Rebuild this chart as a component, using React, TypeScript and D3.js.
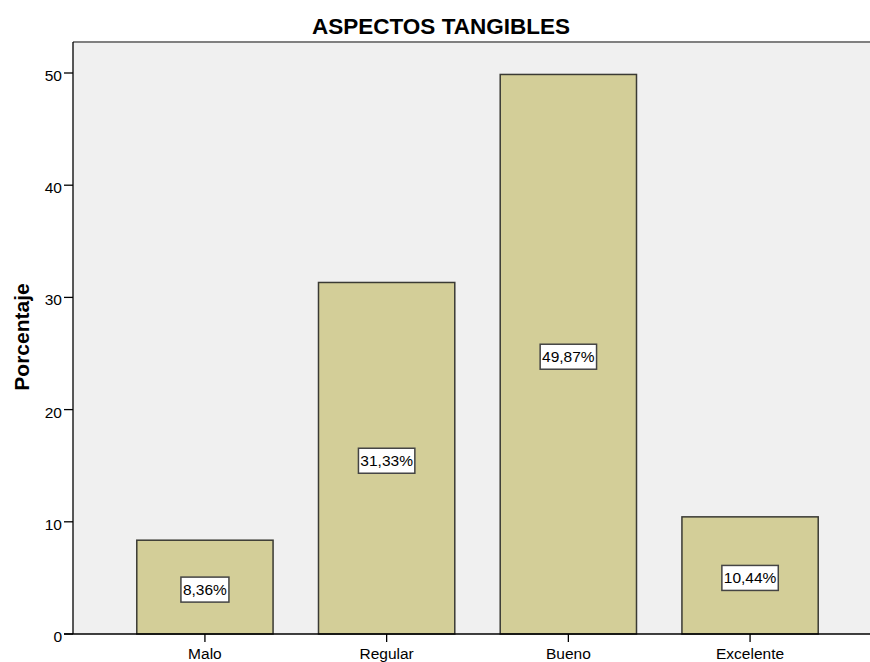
import React from "react";
import * as d3 from "d3";

const categories = ["Malo", "Regular", "Bueno", "Excelente"];
const values = [8.36, 31.33, 49.87, 10.44];
const valueLabels = ["8,36%", "31,33%", "49,87%", "10,44%"];
const yTicks = [0, 10, 20, 30, 40, 50];

const W = 870;
const H = 662;
const plotLeft = 73;
const plotRight = 882;
const plotTop = 42;
const plotBottom = 634;
const font = "'Liberation Sans', Arial, sans-serif";

export default function App() {
  const x = d3
    .scaleBand<string>()
    .domain(categories)
    .range([plotLeft, plotRight])
    .paddingInner(0.25)
    .paddingOuter(0.351);
  const y = d3.scaleLinear().domain([0, 50]).range([plotBottom, 73]);

  return (
    <svg
      width={W}
      height={H}
      style={{ position: "absolute", left: 0, top: 0, display: "block", background: "#fff" }}
      fontFamily={font}
    >
      {/* plot background */}
      <rect x={plotLeft} y={plotTop} width={plotRight - plotLeft} height={plotBottom - plotTop} fill="#f0f0f0" />
      <line x1={plotLeft} x2={plotRight} y1={plotTop} y2={plotTop} stroke="#808080" strokeWidth={2} />

      {/* bars */}
      {categories.map((c, i) => (
        <rect
          key={c}
          x={x(c)!}
          y={y(values[i])}
          width={x.bandwidth()}
          height={y(0) - y(values[i])}
          fill="#d3ce98"
          stroke="#3a3a34"
          strokeWidth={1.5}
        />
      ))}

      {/* value labels */}
      {categories.map((c, i) => {
        const cx = x(c)! + x.bandwidth() / 2;
        const cy = y(values[i] / 2) + 2.5;
        const w = valueLabels[i].length * 8.4 + 6;
        return (
          <g key={c}>
            <rect x={cx - w / 2} y={cy - 12.5} width={w} height={25} fill="#fff" stroke="#444" strokeWidth={1.5} />
            <text x={cx} y={cy + 5.5} textAnchor="middle" fontSize={15.5} fill="#000">
              {valueLabels[i]}
            </text>
          </g>
        );
      })}

      {/* axes */}
      <line x1={plotLeft} x2={plotLeft} y1={plotTop} y2={plotBottom} stroke="#000" strokeWidth={1.3} />
      <line x1={plotLeft - 9} x2={plotRight} y1={plotBottom} y2={plotBottom} stroke="#000" strokeWidth={1.3} />
      {yTicks.map((t) => (
        <g key={t}>
          <line x1={plotLeft - 9} x2={plotLeft} y1={y(t)} y2={y(t)} stroke="#000" strokeWidth={1.3} />
          <text x={plotLeft - 11} y={y(t) + 8} textAnchor="end" fontSize={15.5} fill="#000">
            {t}
          </text>
        </g>
      ))}
      {categories.map((c) => {
        const cx = x(c)! + x.bandwidth() / 2;
        return (
          <g key={c}>
            <line x1={cx} x2={cx} y1={plotBottom} y2={plotBottom + 8} stroke="#000" strokeWidth={1.3} />
            <text x={cx} y={plotBottom + 25} textAnchor="middle" fontSize={15.5} fill="#000">
              {c}
            </text>
          </g>
        );
      })}

      {/* titles */}
      <text x={441} y={34} textAnchor="middle" fontSize={22.5} fontWeight="bold" fill="#000">
        ASPECTOS TANGIBLES
      </text>
      <text
        transform={`translate(29, 337) rotate(-90)`}
        textAnchor="middle"
        fontSize={21}
        fontWeight="bold"
        fill="#000"
      >
        Porcentaje
      </text>
    </svg>
  );
}
